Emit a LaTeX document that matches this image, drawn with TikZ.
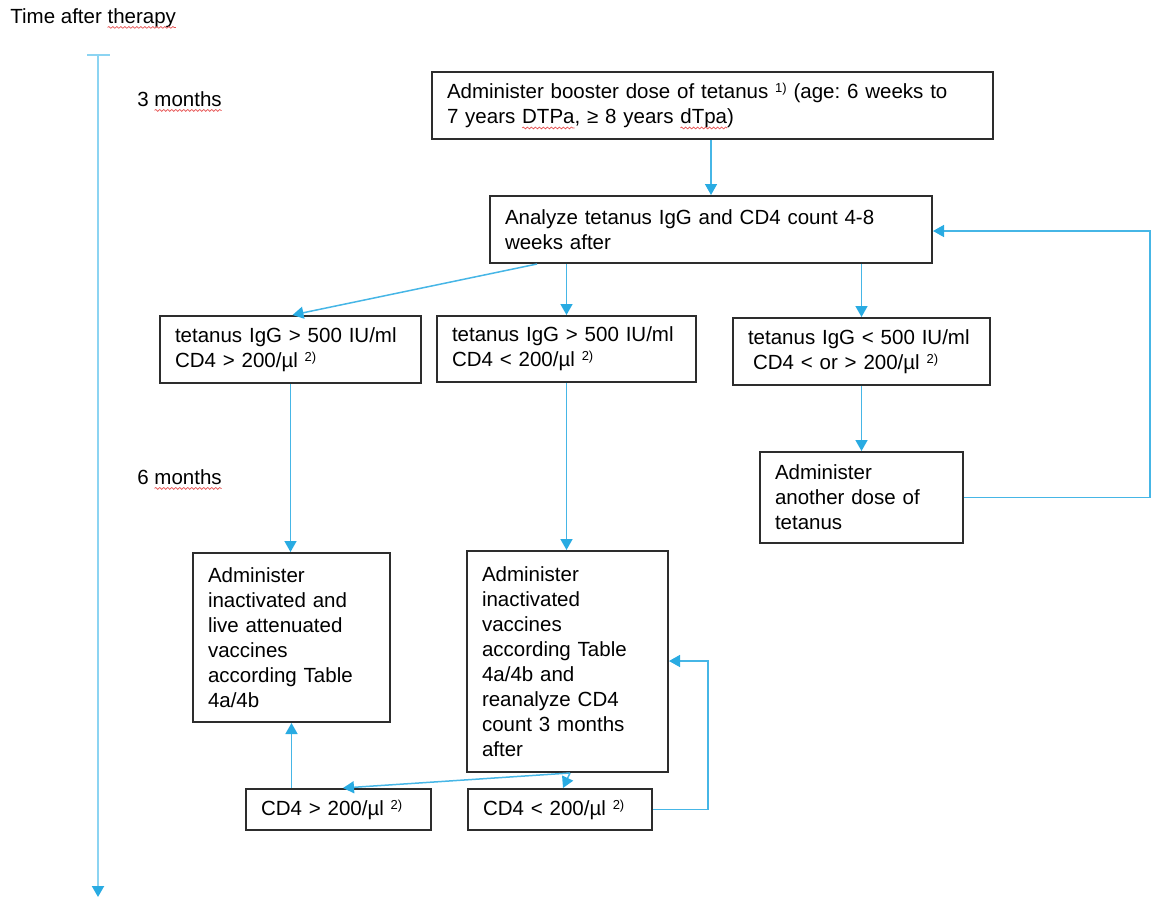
\documentclass[tikz,border=0pt]{standalone}
\usepackage{fontspec}
\setmainfont{Liberation Sans}
\usetikzlibrary{arrows.meta,decorations.pathmorphing,calc}
\frenchspacing
\definecolor{lineblue}{RGB}{70,182,230}
\definecolor{tipblue}{RGB}{41,171,226}
\definecolor{timeblue}{RGB}{140,212,242}
\definecolor{boxgray}{RGB}{45,45,45}
\definecolor{squigred}{RGB}{230,80,80}
\newcommand\supx[1]{\raisebox{0.55ex}{\fontsize{6.5}{7}\selectfont #1}}
\newcommand\squig[1]{\tikz[baseline=(sq.base)]{\node[inner sep=0pt,outer sep=0pt,draw=none,minimum width=0pt,minimum height=0pt,text width=,align=none,font=](sq){#1};\draw[overlay,squigred,line width=0.35pt,decorate,decoration={snake,amplitude=0.45pt,segment length=2pt}]([yshift=-2.2pt]sq.base west) -- ([yshift=-2.2pt]sq.base east);}}
\tikzset{
  box/.style={draw=boxgray,line width=1pt,inner xsep=7.5pt,inner ysep=0pt,align=left,font=\fontsize{10.25}{12.5}\selectfont},
  arr/.style={draw=lineblue,line width=0.75pt,-{Triangle[length=5.5pt,width=6pt,color=tipblue]}},
  plain/.style={font=\fontsize{10.25}{12.5}\selectfont,inner sep=0pt}
}
\begin{document}
\begin{tikzpicture}[x=0.5pt,y=-0.5pt]
\useasboundingbox (0,0) rectangle (1151,900);
% labels
\node[plain,anchor=base west] (title) at (10,23) {Time after \squig{therapy}};
\node[plain,anchor=base west] (m3) at (137,106) {3 \squig{months}};
\node[plain,anchor=base west] (m6) at (137,484) {6 \squig{months}};
% timeline
\coordinate (tTop) at (98,55);
\coordinate (tBot) at (98,897);
\coordinate (tickL) at (87,55);
\coordinate (tickR) at (110,55);
\draw[timeblue,line width=1pt] (tickL) -- (tickR);
\draw[draw=timeblue,line width=1pt,-{Triangle[length=5.5pt,width=6pt,color=tipblue]}] (tTop) -- (tBot);
% boxes
\node[box,minimum width=280.5pt,minimum height=33.5pt,text width=265.5pt] (top) at (712.5,105.5)
 {\mbox{Administer booster dose of tetanus \supx{1)} (age: 6 weeks to}\\\mbox{7 years \squig{DTPa}, ≥ 8 years \squig{dTpa})}};
\node[box,minimum width=221pt,minimum height=33.5pt,text width=206pt] (ana) at (711,229.5)
 {\mbox{Analyze tetanus IgG and CD4 count 4-8}\\\mbox{weeks after}};
\node[box,minimum width=130.5pt,minimum height=33.5pt,text width=115.5pt] (A) at (290.5,349.5)
 {\mbox{tetanus IgG > 500 IU/ml}\\\mbox{CD4 > 200/µl \supx{2)}}};
\node[box,minimum width=129.5pt,minimum height=33pt,text width=114.5pt] (B) at (566.5,349)
 {\mbox{tetanus IgG > 500 IU/ml}\\\mbox{CD4 < 200/µl \supx{2)}}};
\node[box,minimum width=128.5pt,minimum height=33.5pt,text width=113.5pt] (C) at (861.5,351.5)
 {\mbox{tetanus IgG < 500 IU/ml}\\\mbox{\hspace{2.5pt}CD4 < or > 200/µl \supx{2)}}};
\node[box,minimum width=101.5pt,minimum height=45.5pt,text width=86.5pt] (D) at (861.5,497.5)
 {\mbox{Administer}\\\mbox{another dose of}\\\mbox{tetanus}};
\node[box,minimum width=98.5pt,minimum height=84.5pt,text width=83.5pt] (L) at (291.5,637.5)
 {\mbox{Administer}\\\mbox{inactivated and}\\\mbox{live attenuated}\\\mbox{vaccines}\\\mbox{according Table}\\\mbox{4a/4b}};
\node[box,minimum width=100.5pt,minimum height=110.5pt,text width=85.5pt] (M) at (567.5,661.5)
 {\mbox{Administer}\\\mbox{inactivated}\\\mbox{vaccines}\\\mbox{according Table}\\\mbox{4a/4b and}\\\mbox{reanalyze CD4}\\\mbox{count 3 months}\\\mbox{after}};
\node[box,minimum width=92.5pt,minimum height=20.5pt,text width=77.5pt] (G) at (338.5,809.5)
 {\mbox{CD4 > 200/µl \supx{2)}}};
\node[box,minimum width=92pt,minimum height=20.5pt,text width=77pt] (H) at (560,809.5)
 {\mbox{CD4 < 200/µl \supx{2)}}};
% connectors
\coordinate (loopR) at (1150,231);
\coordinate (loopM) at (708,661);
\draw[arr] (top.south -| ana.north) -- (ana.north);
\draw[arr] ([xshift=-87pt]ana.south) -- ([xshift=1pt]A.north);
\draw[arr] (B.north |- ana.south) -- (B.north);
\draw[arr] (C.north |- ana.south) -- (C.north);
\draw[arr] (C.south) -- (D.north);
\draw[arr] (D.east) -| (loopR) -- (loopR -| ana.east);
\draw[arr] (A.south) -- (A.south |- L.north);
\draw[arr] (B.south) -- (B.south |- M.north);
\draw[arr] ([xshift=1.25pt]M.south) -- ([xshift=2.25pt]G.north);
\draw[arr] ([xshift=1.25pt]M.south) -- ([xshift=1.5pt]H.north);
\draw[arr] (L.south |- G.north) -- (L.south);
\draw[arr] (H.east) -| (loopM) -- (loopM -| M.east);
\end{tikzpicture}
\end{document}
